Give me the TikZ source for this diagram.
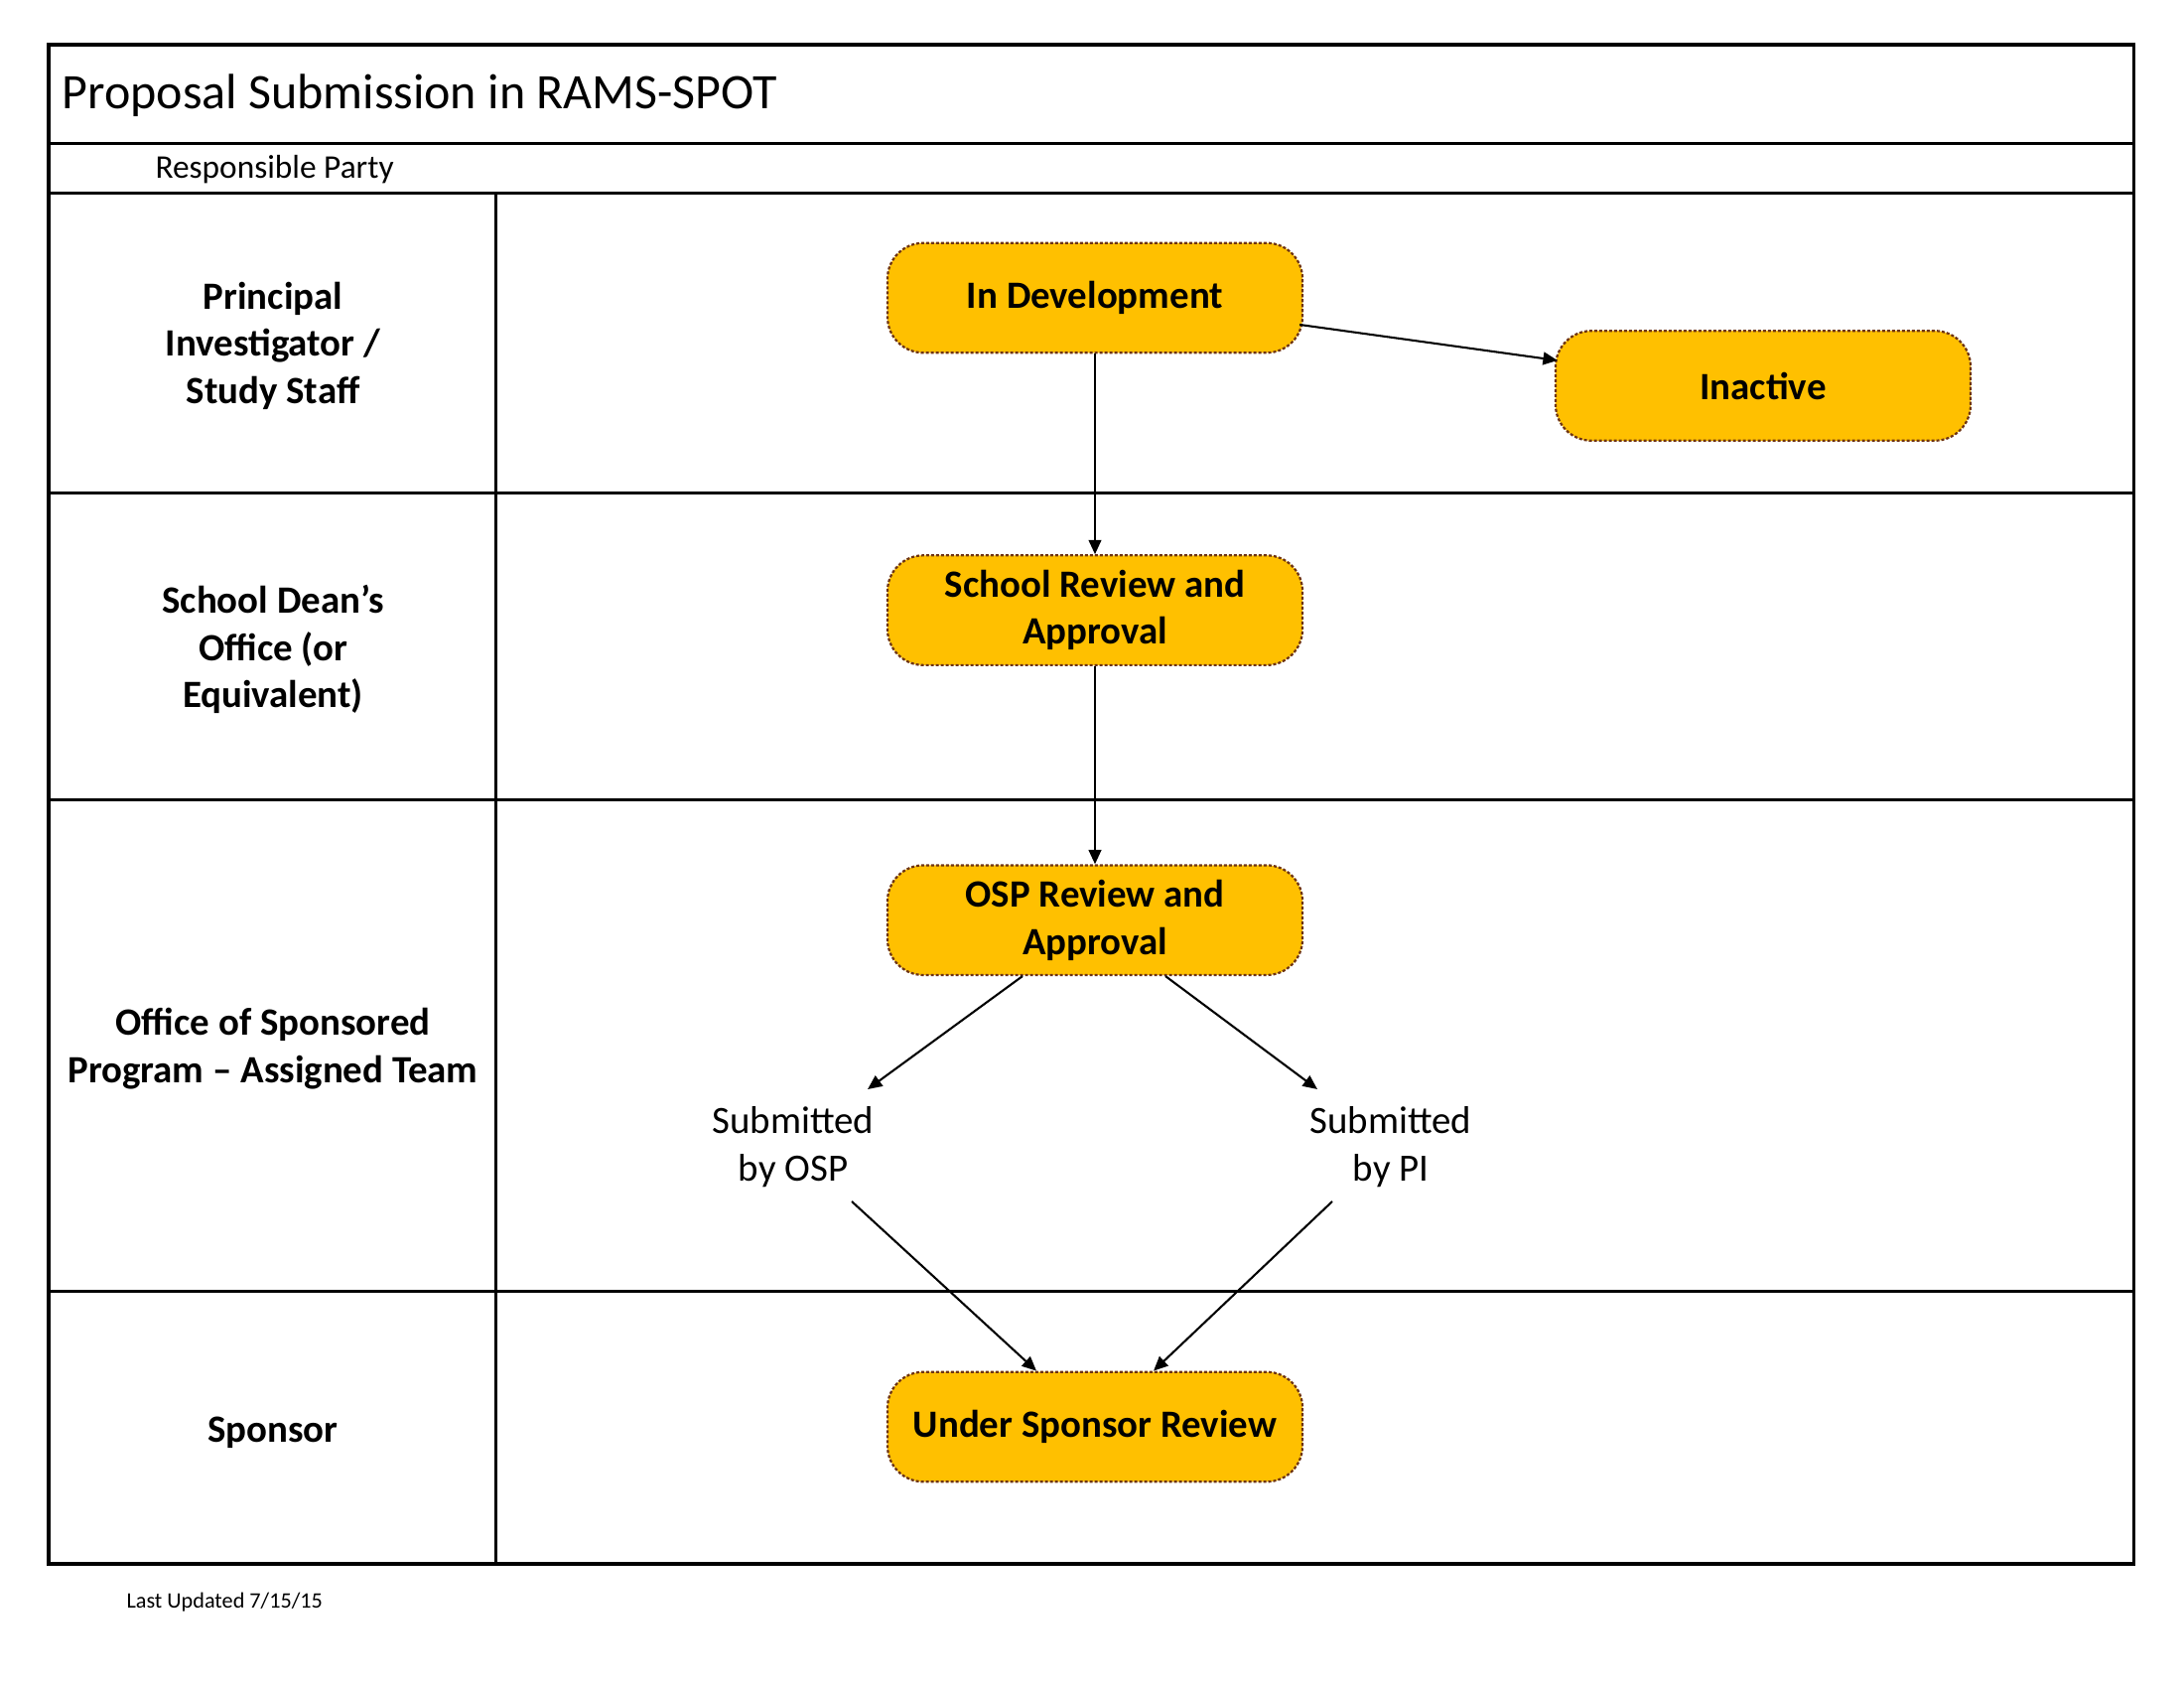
\documentclass[tikz,border=0pt]{standalone}
\usepackage{fontspec}
\setmainfont{Carlito}
\usetikzlibrary{arrows.meta,calc}
\definecolor{boxfill}{HTML}{FFC000}
\definecolor{boxline}{HTML}{6E3414}
\tikzset{
  frameline/.style={line width=1.1pt,black},
  statebox/.style={rectangle,rounded corners=13pt,fill=boxfill,draw=boxline,
    line width=0.8pt,dash pattern=on 1.1pt off 0.7pt,minimum width=150.5pt,
    minimum height=39.8pt,align=center,inner sep=2pt,
    font=\fontsize{14}{17.1}\selectfont\bfseries},
  lanelabel/.style={align=center,inner sep=0pt,font=\fontsize{14}{17.1}\selectfont\bfseries},
  sublabel/.style={align=center,inner sep=0pt,font=\fontsize{14}{17.1}\selectfont},
  flow/.style={line width=0.75pt,-{Triangle[length=5.2pt,width=4.6pt]}}
}
\begin{document}
\begin{tikzpicture}[x=0.36pt,y=-0.36pt]
\useasboundingbox (0,0) rectangle (2200,1700);
% frame
\draw[frameline] (49,45) rectangle (2149.5,1575);
\draw[frameline] (49,144.5) -- (2149.5,144.5);
\draw[frameline] (49,194.5) -- (2149.5,194.5);
\draw[frameline] (499.5,194.5) -- (499.5,1575);
\draw[frameline] (49,496.7) -- (2149.5,496.7);
\draw[frameline] (49,805.4) -- (2149.5,805.4);
\draw[frameline] (49,1300.7) -- (2149.5,1300.7);
% titles
\node[anchor=base west,inner sep=0pt,font=\fontsize{18}{22}\selectfont] (title) at (62,110) {Proposal Submission in RAMS-SPOT};
\node[anchor=base west,inner sep=0pt,font=\fontsize{12}{14.6}\selectfont] (rp) at (156,180) {Responsible Party};
% lane labels
\node[lanelabel] (l1) at (275,348) {Principal\\Investigator /\\Study Staff};
\node[lanelabel] (l2) at (275,654) {School Dean’s\\Office (or\\Equivalent)};
\node[lanelabel] (l3) at (275,1056) {Office of Sponsored\\Program – Assigned Team};
\node[lanelabel] (l4) at (275,1443) {Sponsor};
% states
\node[statebox] (indev) at (1103,300) {\raisebox{-1pt}{In Development}};
\node[statebox] (inactive) at (1776,388.5) {\raisebox{-1pt}{Inactive}};
\node[statebox] (school) at (1103,614.6) {School Review and\\Approval};
\node[statebox] (osp) at (1103,926.7) {OSP Review and\\Approval};
\node[statebox] (under) at (1103,1437) {\raisebox{-1pt}{Under Sponsor Review}};
\node[sublabel] (subosp) at (799,1155) {Submitted\\by OSP};
\node[sublabel] (subpi) at (1401,1155) {Submitted\\by PI};
% connectors
\draw[flow] (indev.south) -- (school.north);
\draw[flow] (school.south) -- (osp.north);
\draw[flow] ($(indev.east)+(-4,27)$) -- ($(inactive.west)+(3,-25.5)$);
\draw[flow] ($(osp.south)+(-73,0)$) -- ($(subosp.center)+(75,-58)$);
\draw[flow] ($(osp.south)+(71,0)$) -- ($(subpi.center)+(-74,-58)$);
\draw[flow] ($(subosp.center)+(59,55)$) -- ($(under.north)+(-59,0)$);
\draw[flow] ($(subpi.center)+(-59,55)$) -- ($(under.north)+(59,0)$);
% footer
\node[anchor=base west,inner sep=0pt,font=\fontsize{8}{9.8}\selectfont] (upd) at (127,1619) {Last Updated 7/15/15};
\end{tikzpicture}
\end{document}
